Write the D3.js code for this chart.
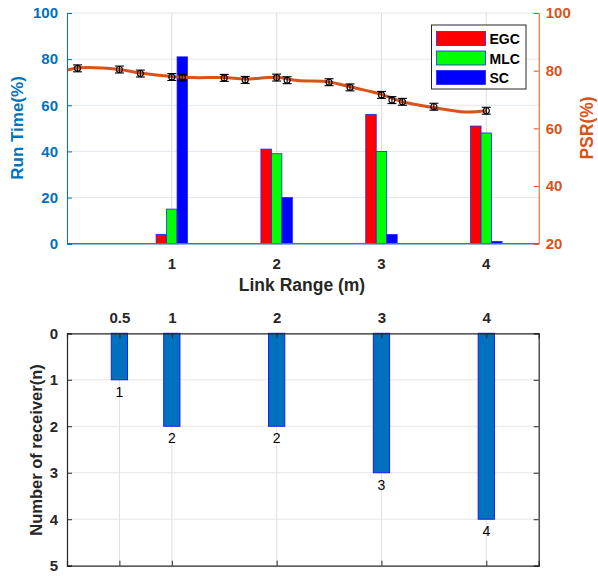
<!DOCTYPE html>
<html>
<head>
<meta charset="utf-8">
<script src="https://cdn.jsdelivr.net/npm/d3@7"></script>
<style>
  body { margin: 0; background: #fff; }
  text { font-family: "Liberation Sans", Arial, sans-serif; }
</style>
</head>
<body>
<div id="chart"></div>
<script>
// ---- data ----
const groups = [1, 2, 3, 4];
const series = ["EGC", "MLC", "SC"];
const egc = [4, 41, 56, 51];
const mlc = [15, 39, 40, 48];
const sc  = [81, 20, 4, 1];
const barColors = ["#ff0000", "#00ff00", "#0000ff"];

// PSR measurements with error bars
const psrX   = [0.1, 0.5, 0.7, 1.0, 1.1, 1.5, 1.7, 2.0, 2.1, 2.5, 2.7, 3.0, 3.1, 3.2, 3.5, 4.0];
const psrY   = [80.8, 80.4, 79.0, 77.8, 77.6, 77.5, 76.8, 77.6, 76.7, 76.0, 74.2, 71.6, 69.8, 69.2, 67.5, 66.1];
const psrErr = [1.2, 1.2, 1.2, 1.2, 1.2, 1.2, 1.2, 1.2, 1.2, 1.2, 1.2, 1.2, 1.2, 1.2, 1.2, 1.2];
// fitted PSR curve
const fitX = [0, 0.12, 0.5, 0.7, 1.0, 1.2, 1.5, 1.7, 2.0, 2.2, 2.5, 2.7, 3.0, 3.2, 3.5, 3.8, 4.0];
const fitY = [80.2, 81.0, 80.4, 79.2, 78.0, 77.6, 77.6, 77.1, 77.7, 76.6, 76.1, 74.4, 71.8, 69.2, 67.2, 65.7, 66.1];

// receivers per link range
const rxRange = [0.5, 1, 2, 3, 4];
const rxCount = [1, 2, 2, 3, 4];
const rxTickLabels = ["0.5", "1", "2", "3", "4"];

const W = 598, H = 576;
const L = 67, R = 538.7;
const blue = "#0072bd", orange = "#d95319", dark = "#262626";

let svg = d3.select("#chart").append("svg")
            .attr("width", W).attr("height", H);

let x = d3.scaleLinear().domain([0, 4.5]).range([L, R]);

////////////////// top chart ////////////////////////////////////
const T1 = 13, B1 = 243.7;
let yL = d3.scaleLinear().domain([0, 100]).range([B1, T1]);
let yR = d3.scaleLinear().domain([20, 100]).range([B1, T1]);

let topG = svg.append("g");

//grid
topG.append("g").selectAll("line").data(d3.range(20, 101, 20)).enter().append("line")
   .attr("x1", L).attr("x2", R)
   .attr("y1", d => yL(d)).attr("y2", d => yL(d))
   .style("stroke", "#e2e8ee").style("stroke-width", 1);
topG.append("g").selectAll("line").data(groups).enter().append("line")
   .attr("x1", d => x(d)).attr("x2", d => x(d))
   .attr("y1", T1).attr("y2", B1)
   .style("stroke", "#dcdcdc").style("stroke-width", 1);

//bars
const barVals = [egc, mlc, sc];
const bw = 0.1;
barVals.forEach(function(vals, s) {
  topG.append("g").selectAll("rect").data(groups).enter().append("rect")
     .attr("x", (d, i) => x(d + (s - 1) * bw - bw / 2))
     .attr("width", x(bw) - x(0))
     .attr("y", (d, i) => yL(vals[i]))
     .attr("height", (d, i) => yL(0) - yL(vals[i]))
     .style("fill", barColors[s])
     .style("stroke", "#2222ff").style("stroke-width", 0.8);
});

//baseline
topG.append("line")
   .attr("x1", L).attr("x2", R).attr("y1", yL(0)).attr("y2", yL(0))
   .style("stroke", "#3f78aa").style("stroke-width", 1.5);

//fitted curve
let line = d3.line().x(d => x(d[0])).y(d => yR(d[1])).curve(d3.curveCatmullRom);
topG.append("path")
   .datum(fitX.map((d, i) => [d, fitY[i]]))
   .attr("d", line)
   .style("fill", "none").style("stroke", orange).style("stroke-width", 3);

//error bars + markers
let pts = psrX.map((d, i) => ({x: d, y: psrY[i], e: psrErr[i]}));
let eb = topG.append("g").selectAll("g").data(pts).enter().append("g")
            .style("stroke", "#000").style("stroke-width", 1.1);
eb.append("line")
  .attr("x1", d => x(d.x)).attr("x2", d => x(d.x))
  .attr("y1", d => yR(d.y - d.e)).attr("y2", d => yR(d.y + d.e));
eb.append("line")
  .attr("x1", d => x(d.x) - 4.5).attr("x2", d => x(d.x) + 4.5)
  .attr("y1", d => yR(d.y - d.e)).attr("y2", d => yR(d.y - d.e));
eb.append("line")
  .attr("x1", d => x(d.x) - 4.5).attr("x2", d => x(d.x) + 4.5)
  .attr("y1", d => yR(d.y + d.e)).attr("y2", d => yR(d.y + d.e));
eb.append("circle")
  .attr("cx", d => x(d.x)).attr("cy", d => yR(d.y)).attr("r", 3)
  .style("fill", "none");

//left axis
let axL = topG.append("g").attr("transform", `translate(${L},0)`)
             .call(d3.axisLeft(yL).tickValues(d3.range(0, 101, 20)).tickSize(-5).tickPadding(9));
axL.select(".domain").style("stroke", blue);
axL.selectAll(".tick line").style("stroke", blue);
axL.selectAll("text").style("fill", blue).style("font-size", "15px").style("font-weight", "bold");

//right axis
let axR = topG.append("g").attr("transform", `translate(${R},0)`)
             .call(d3.axisRight(yR).tickValues(d3.range(20, 101, 20)).tickSize(-5).tickPadding(7));
axR.select(".domain").style("stroke", orange);
axR.selectAll(".tick line").style("stroke", orange);
axR.selectAll("text").style("fill", orange).style("font-size", "15px").style("font-weight", "bold");

//x tick labels
topG.append("g").selectAll("text").data(groups).enter().append("text")
   .attr("x", d => x(d)).attr("y", 269)
   .style("text-anchor", "middle").style("font-size", "15px").style("font-weight", "bold")
   .style("fill", dark).text(d => d);

//axis titles
topG.append("text").attr("transform", "translate(23,128) rotate(-90)")
   .style("text-anchor", "middle").style("font-size", "17px").style("font-weight", "bold")
   .style("fill", blue).text("Run Time(%)");
topG.append("text").attr("transform", "translate(593,128) rotate(-90)")
   .style("text-anchor", "middle").style("font-size", "17.5px").style("font-weight", "bold")
   .style("fill", orange).text("PSR(%)");
topG.append("text").attr("x", 302).attr("y", 291)
   .style("text-anchor", "middle").style("font-size", "17.5px").style("font-weight", "bold")
   .style("fill", dark).text("Link Range (m)");

//legend
let lg = topG.append("g").attr("transform", "translate(431.5,25)");
lg.append("rect").attr("width", 94.5).attr("height", 64)
  .style("fill", "#fff").style("stroke", dark).style("stroke-width", 1);
series.forEach(function(s, i) {
  lg.append("rect").attr("x", 5).attr("y", 6.5 + i * 19.5).attr("width", 49).attr("height", 14)
    .style("fill", barColors[i]).style("stroke", "#2222ff").style("stroke-width", 0.8);
  lg.append("text").attr("x", 58).attr("y", 19 + i * 19.5)
    .style("font-size", "14px").style("font-weight", "bold").style("fill", "#000").text(s);
});

////////////////// bottom chart ////////////////////////////////////
const T2 = 333.3, B2 = 565.7;
let y2 = d3.scaleLinear().domain([0, 5]).range([T2, B2]);
let bot = svg.append("g");

//grid
bot.append("g").selectAll("line").data(d3.range(1, 5)).enter().append("line")
   .attr("x1", L).attr("x2", R).attr("y1", d => y2(d)).attr("y2", d => y2(d))
   .style("stroke", "#e6e6e6").style("stroke-width", 1);
bot.append("g").selectAll("line").data(rxRange).enter().append("line")
   .attr("x1", d => x(d)).attr("x2", d => x(d)).attr("y1", T2).attr("y2", B2)
   .style("stroke", "#e0e0e0").style("stroke-width", 1);

//bars
const bw2 = 0.155;
bot.append("g").selectAll("rect").data(rxRange).enter().append("rect")
   .attr("x", d => x(d - bw2 / 2)).attr("width", x(bw2) - x(0))
   .attr("y", y2(0)).attr("height", (d, i) => y2(rxCount[i]) - y2(0))
   .style("fill", blue).style("stroke", "#1a1aff").style("stroke-width", 1);

//value labels
bot.append("g").selectAll("text").data(rxRange).enter().append("text")
   .attr("x", d => x(d)).attr("y", (d, i) => y2(rxCount[i]) + 17)
   .style("text-anchor", "middle").style("font-size", "14px").style("fill", "#000")
   .text((d, i) => rxCount[i]);

//axes (box with inward ticks)
let ax2L = bot.append("g").attr("transform", `translate(${L},0)`)
              .call(d3.axisLeft(y2).ticks(5).tickSize(-5).tickPadding(9));
let ax2R = bot.append("g").attr("transform", `translate(${R},0)`)
              .call(d3.axisRight(y2).ticks(5).tickSize(-5).tickFormat(""));
let ax2T = bot.append("g").attr("transform", `translate(0,${T2})`)
              .call(d3.axisTop(x).tickValues(rxRange).tickSize(-5).tickPadding(10)
                      .tickFormat((d, i) => rxTickLabels[i]));
let ax2B = bot.append("g").attr("transform", `translate(0,${B2})`)
              .call(d3.axisBottom(x).tickValues(rxRange).tickSize(-5).tickFormat(""));
[ax2L, ax2R, ax2T, ax2B].forEach(function(a) {
  a.select(".domain").style("stroke", dark).style("stroke-width", 1.2);
  a.selectAll(".tick line").style("stroke", dark);
  a.selectAll("text").style("fill", dark).style("font-size", "15px").style("font-weight", "bold");
});

bot.append("text").attr("transform", "translate(42,450) rotate(-90)")
   .style("text-anchor", "middle").style("font-size", "16.5px").style("font-weight", "bold")
   .style("fill", dark).text("Number of receiver(n)");
</script>
</body>
</html>
